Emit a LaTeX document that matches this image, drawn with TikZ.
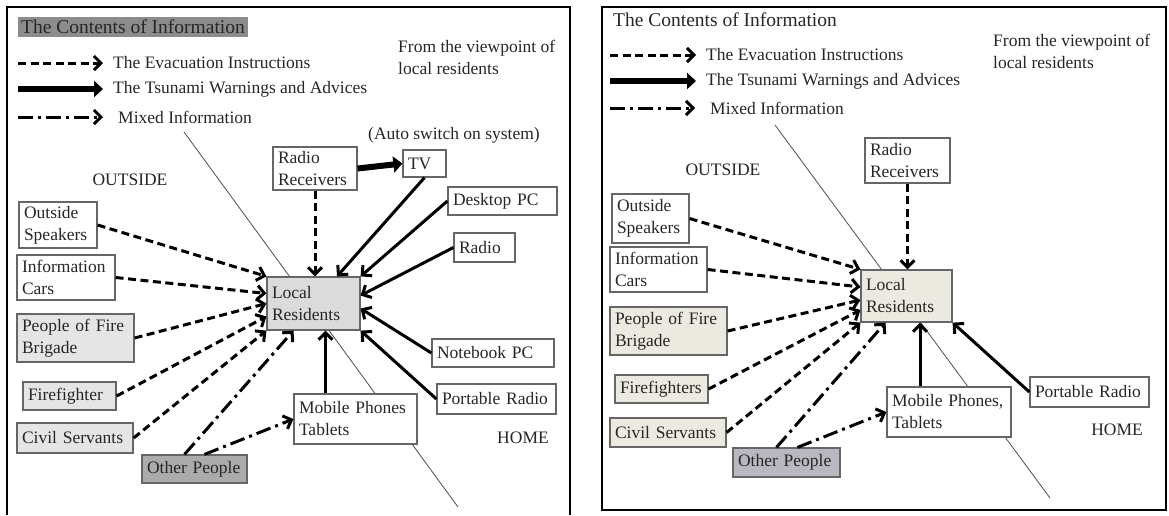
\documentclass[tikz,border=0pt]{standalone}
\usepackage{fontspec}
\setmainfont{Liberation Serif}
\usetikzlibrary{arrows.meta,positioning}
\definecolor{beigebox}{RGB}{236,234,224}
\definecolor{slatebox}{RGB}{184,184,192}
\newcommand{\boxfont}{\fontsize{17.5}{22}\selectfont\hyphenpenalty=10000 }
\newcommand{\headfont}{\fontsize{19.5}{23}\selectfont}

\begin{document}
\begin{tikzpicture}[x=1pt,y=-1pt,
  box/.style={draw=black!60, fill=white, line width=1.2pt, inner xsep=5pt, inner ysep=2pt, align=left, font=\boxfont, text=black!85},
  txt/.style={font=\boxfont, text=black!85, inner sep=2pt, align=left},
  frame/.style={line width=2pt},
  divider/.style={line width=0.8pt, black!70},
  evac/.style={line width=3pt, dash pattern=on 8pt off 4.5pt, -{Straight Barb[length=7pt,width=14pt]}},
  warn/.style={line width=3pt, -{Straight Barb[length=7pt,width=14pt]}},
  mixed/.style={line width=3pt, dash pattern=on 15pt off 5pt on 3pt off 5pt, -{Straight Barb[length=7pt,width=14pt]}},
  heavy/.style={line width=6pt, -{Triangle[length=9pt,width=16pt]}}]
\useasboundingbox (0,0) rectangle (1169,515);

\draw[frame] (7,515) |- (570,7) -- (570,515);
\draw[frame] (602,7) rectangle (1166,510);

\coordinate (divL1) at (184,132);
\coordinate (divL2) at (458,507);
\coordinate (divR1) at (775,125);
\coordinate (divR2) at (1050,498);
\draw[divider] (divL1) -- (divL2);
\draw[divider] (divR1) -- (divR2);

\node[txt, font=\headfont, anchor=west, fill=black!45, inner sep=3pt] (titleL) at (18,27) {The Contents of Information};
\node[txt, anchor=west] (evL) at (111,63) {The Evacuation Instructions};
\node[txt, anchor=west] (wnL) at (111,89) {The Tsunami Warnings and Advices};
\node[txt, anchor=west] (mxL) at (116,117) {Mixed Information};
\coordinate (lgL1) at (18,63);
\coordinate (lgL2) at (18,89);
\coordinate (lgL3) at (18,117);
\draw[evac, shorten >=8pt] (lgL1) -- (evL.west);
\draw[heavy, shorten >=8pt] (lgL2) -- (wnL.west);
\draw[mixed, shorten >=13pt] (lgL3) -- (mxL.west);
\node[txt, anchor=west] (viewL) at (396,57) {From the viewpoint of\\local residents};
\node[txt, anchor=west] (autoL) at (366,135) {(Auto switch on system)};
\node[txt] (outL) at (130,180) {OUTSIDE};
\node[txt] (homeL) at (523,438) {HOME};

\node[box, text width=74pt, minimum height=43pt] (rrL) at (315,168.5) {Radio\\Receivers};
\node[box, text width=33pt, minimum height=27pt] (tvL) at (424.5,163.5) {TV};
\node[box, text width=99pt, minimum height=28pt] (dpcL) at (502.5,201) {Desktop PC};
\node[box, text width=51pt, minimum height=29pt] (radL) at (484.5,247.5) {Radio};
\node[box, text width=112pt, minimum height=28pt] (nbL) at (493,353) {Notebook PC};
\node[box, text width=109pt, minimum height=30pt] (prL) at (496.5,399) {Portable Radio};
\node[box, text width=113pt, minimum height=50pt] (mpL) at (355.5,419) {Mobile Phones\\Tablets};
\node[box, fill=black!14, text width=83pt, minimum height=53pt] (lrL) at (313.5,303.5) {Local\\Residents};
\node[box, text width=68pt, minimum height=46pt] (osL) at (58,225) {Outside\\Speakers};
\node[box, text width=88pt, minimum height=45pt] (icL) at (66,277.5) {Information\\Cars};
\node[box, fill=black!10, text width=107pt, minimum height=48pt] (pfL) at (75.5,338) {People of Fire\\Brigade};
\node[box, fill=black!10, text width=83pt, minimum height=28pt] (ffL) at (69.5,396) {Firefighter};
\node[box, fill=black!10, text width=106pt, minimum height=30pt] (csL) at (75,438) {Civil Servants};
\node[box, fill=black!33, text width=95pt, minimum height=28pt] (opL) at (194.5,469) {Other People};

\draw[heavy] (rrL.east) -- (tvL.west);
\draw[evac] (osL.east) -- (lrL.north west);
\draw[evac] (icL.east) -- ([yshift=10pt]lrL.west);
\draw[evac] (pfL.east) -- (lrL.west);
\draw[evac] (ffL.east) -- ([yshift=-13pt]lrL.west);
\draw[evac] (csL.east) -- (lrL.south west);
\draw[evac] (rrL.south) -- (rrL.south |- lrL.north);
\draw[mixed] ([xshift=-10pt]opL.north) -- ([xshift=-20pt]lrL.south);
\draw[mixed] ([xshift=10pt]opL.north) -- (mpL.west);
\draw[warn] ([xshift=-30pt]mpL.north) -- ([xshift=-30pt]mpL.north |- lrL.south);
\draw[warn] (tvL.south) -- ([xshift=23.5pt]lrL.north);
\draw[warn] (dpcL.west) -- (lrL.north east);
\draw[warn] (radL.west) -- ([yshift=8pt]lrL.east);
\draw[warn] (nbL.west) -- ([yshift=-5pt]lrL.east);
\draw[warn] (prL.west) -- (lrL.south east);

\node[txt, font=\headfont, anchor=west] (titleR) at (611,20) {The Contents of Information};
\node[txt, anchor=west] (evR) at (704,55) {The Evacuation Instructions};
\node[txt, anchor=west] (wnR) at (704,81) {The Tsunami Warnings and Advices};
\node[txt, anchor=west] (mxR) at (708,108) {Mixed Information};
\coordinate (lgR1) at (610,55);
\coordinate (lgR2) at (610,81);
\coordinate (lgR3) at (610,108);
\draw[evac, shorten >=8pt] (lgR1) -- (evR.west);
\draw[heavy, shorten >=8pt] (lgR2) -- (wnR.west);
\draw[mixed, shorten >=13pt] (lgR3) -- (mxR.west);
\node[txt, anchor=west] (viewR) at (991,51) {From the viewpoint of\\local residents};
\node[txt] (outR) at (723,170) {OUTSIDE};
\node[txt] (homeR) at (1117,430) {HOME};

\node[box, text width=75pt, minimum height=45pt] (rrR) at (907.5,160.5) {Radio\\Receivers};
\node[box, fill=beigebox, text width=81pt, minimum height=52pt] (lrR) at (906.5,296) {Local\\Residents};
\node[box, text width=114pt, minimum height=50pt] (mpR) at (949,412) {Mobile Phones,\\Tablets};
\node[box, text width=109pt, minimum height=30pt] (prR) at (1089.5,392) {Portable Radio};
\node[box, text width=67pt, minimum height=49pt] (osR) at (650.5,218.5) {Outside\\Speakers};
\node[box, text width=87pt, minimum height=45pt] (icR) at (658.5,269.5) {Information\\Cars};
\node[box, fill=beigebox, text width=107pt, minimum height=48pt] (pfR) at (668.5,331) {People of Fire\\Brigade};
\node[box, fill=beigebox, text width=83pt, minimum height=28pt] (ffR) at (661.5,389) {Firefighters};
\node[box, fill=beigebox, text width=106pt, minimum height=29pt] (csR) at (668,432.5) {Civil Servants};
\node[box, fill=slatebox, text width=97pt, minimum height=29pt] (opR) at (786.5,462.5) {Other People};

\draw[evac] (osR.east) -- (lrR.north west);
\draw[evac] (icR.east) -- ([yshift=9pt]lrR.west);
\draw[evac] (pfR.east) -- ([yshift=-4pt]lrR.west);
\draw[evac] (ffR.east) -- ([yshift=-14pt]lrR.west);
\draw[evac] (csR.east) -- (lrR.south west);
\draw[evac] (rrR.south) -- (rrR.south |- lrR.north);
\draw[mixed] ([xshift=-10pt]opR.north) -- ([xshift=-21pt]lrR.south);
\draw[mixed] ([xshift=11pt]opR.north) -- (mpR.west);
\draw[warn] ([xshift=-29pt]mpR.north) -- ([xshift=-29pt]mpR.north |- lrR.south);
\draw[warn] (prR.west) -- (lrR.south east);
\end{tikzpicture}
\end{document}
